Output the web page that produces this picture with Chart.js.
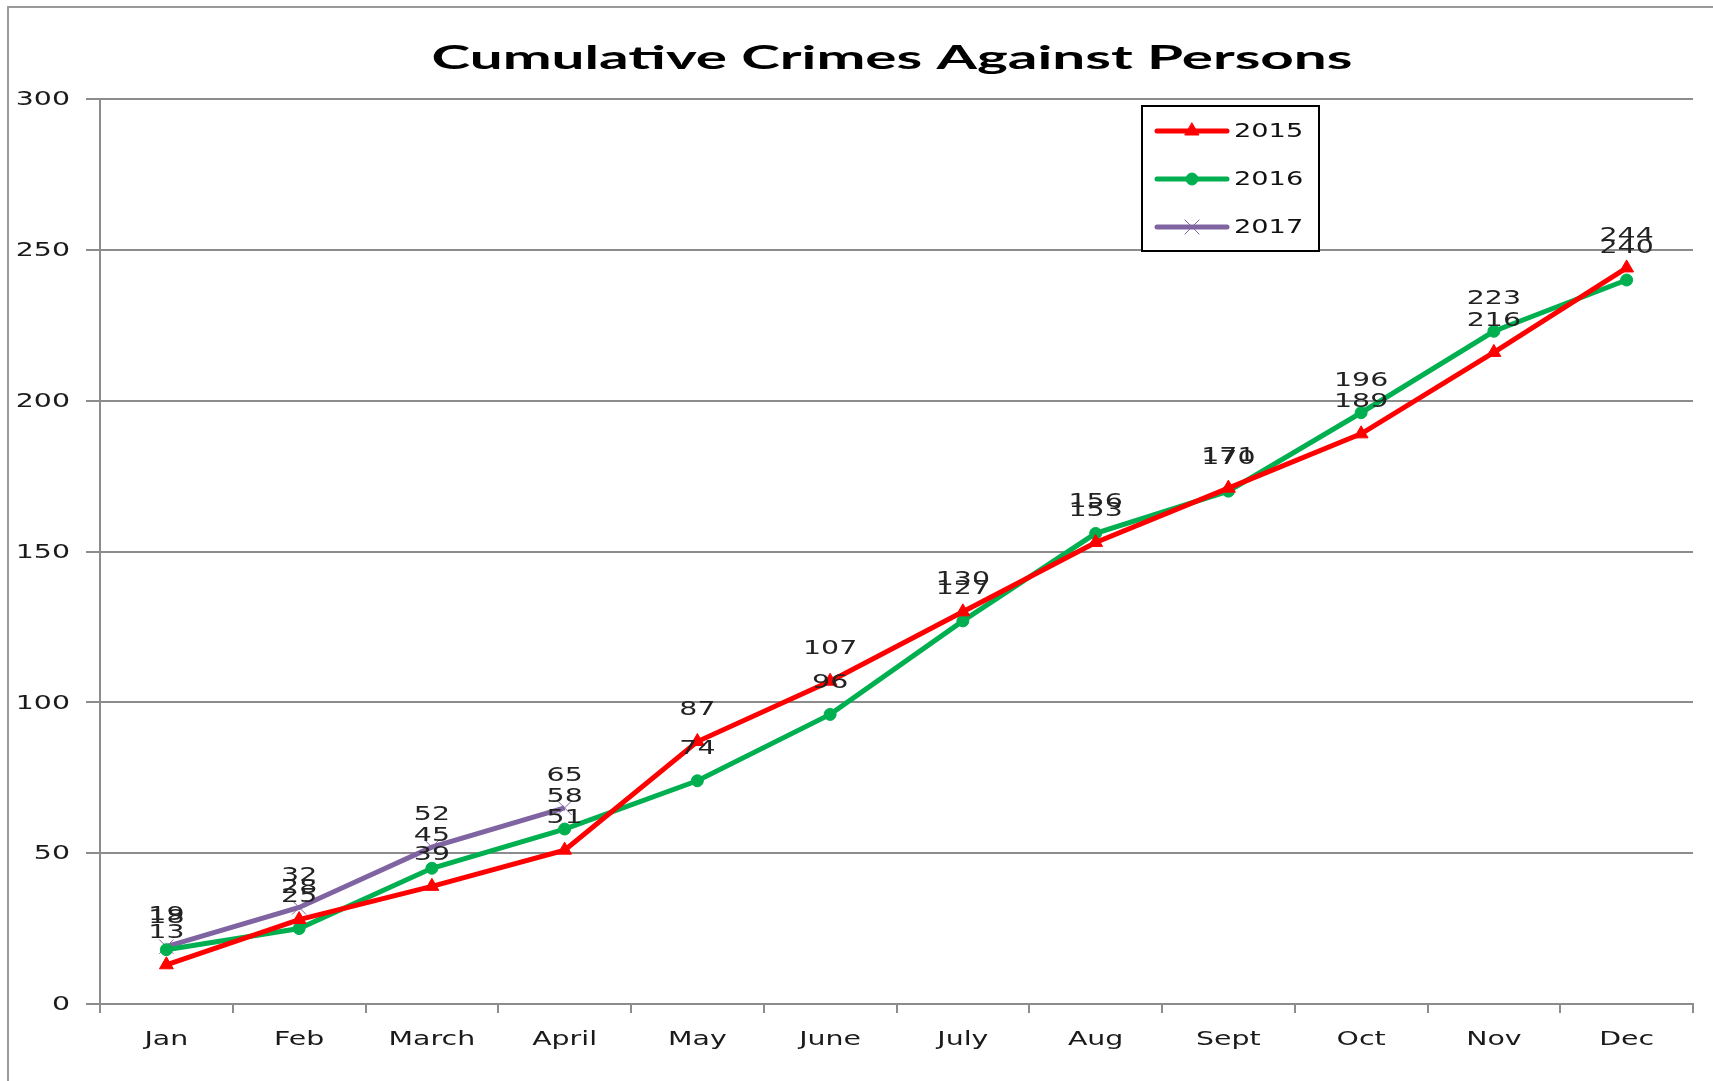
<!DOCTYPE html>
<html>
<head>
<meta charset="utf-8">
<script src="https://cdn.jsdelivr.net/npm/chart.js@4/dist/chart.umd.min.js"></script>
<style>
body { margin: 0; background: #fff; }
canvas { display: block; }
</style>
</head>
<body>
<canvas id="mainChart" width="1713" height="1081"></canvas>
<script>
var months = ['Jan', 'Feb', 'March', 'April', 'May', 'June', 'July', 'Aug', 'Sept', 'Oct', 'Nov', 'Dec'];
var crimes2015 = [13, 28, 39, 51, 87, 107, 130, 153, 171, 189, 216, 244];
var crimes2016 = [18, 25, 45, 58, 74, 96, 127, 156, 170, 196, 223, 240];
var crimes2017 = [19, 32, 52, 65];
var yTicks = [0, 50, 100, 150, 200, 250, 300];

var fontFace = '"DejaVu Sans", Verdana, sans-serif';
var stretch = 1.42; // the source text is wide, squashed vertically

// draw text widened horizontally around (x, y)
var wideText = function(ctx, text, x, y, align, sx) {
    ctx.save();
    ctx.translate(x, y);
    ctx.scale(sx, 1);
    ctx.textAlign = align;
    ctx.fillText(text, 0, 0);
    ctx.restore();
};

// Title, frame, tick labels, value labels and the boxed legend
var extrasPlugin = {
    id: 'extras',
    beforeDraw: function(chart) {
        var ctx = chart.ctx;
        ctx.save();
        ctx.fillStyle = '#fff';
        ctx.fillRect(0, 0, chart.width, chart.height);
        ctx.strokeStyle = '#9a9a9a';
        ctx.lineWidth = 2;
        ctx.beginPath();
        ctx.moveTo(8, chart.height);
        ctx.lineTo(8, 7);
        ctx.lineTo(chart.width, 7);
        ctx.stroke();
        ctx.restore();
    },
    afterDraw: function(chart) {
        var ctx = chart.ctx;
        var xs = chart.scales.x, ys = chart.scales.y;
        ctx.save();
        ctx.fillStyle = '#1a1a1a';
        ctx.textBaseline = 'middle';
        ctx.font = '20px ' + fontFace;
        // tick labels
        yTicks.forEach(function(v) {
            wideText(ctx, String(v), 70, ys.getPixelForValue(v) + 1, 'right', stretch);
        });
        months.forEach(function(m, i) {
            wideText(ctx, m, xs.getPixelForValue(i), 1040, 'center', stretch);
        });

        // value labels above the points
        ctx.fillStyle = '#222';
        chart.data.datasets.forEach(function(ds, i) {
            var meta = chart.getDatasetMeta(i);
            meta.data.forEach(function(pt, j) {
                wideText(ctx, String(ds.data[j]), pt.x, pt.y - 32, 'center', stretch);
            });
        });

        // title
        ctx.font = 'bold 33px Lato, "Open Sans", sans-serif';
        ctx.fillStyle = '#000';
        var title = 'Cumulative Crimes Against Persons';
        var tw = ctx.measureText(title).width;
        wideText(ctx, title, 892, 58, 'center', 921 / tw);

        // legend box
        var bx = 1142, by = 106, bw = 177, bh = 145;
        ctx.fillStyle = '#fff';
        ctx.fillRect(bx, by, bw, bh);
        ctx.strokeStyle = '#000';
        ctx.lineWidth = 2;
        ctx.strokeRect(bx, by, bw, bh);
        var rows = [131, 179, 227];
        chart.data.datasets.forEach(function(ds, i) {
            var y = rows[i];
            ctx.strokeStyle = ds.borderColor;
            ctx.fillStyle = ds.borderColor;
            ctx.lineWidth = 5;
            ctx.lineCap = 'round';
            ctx.beginPath();
            ctx.moveTo(1157, y);
            ctx.lineTo(1227, y);
            ctx.stroke();
            ctx.lineWidth = ds.pointBorderWidth;
            Chart.helpers.drawPoint(ctx, {
                pointStyle: ds.pointStyle,
                radius: ds.pointRadius,
                borderWidth: ds.pointBorderWidth
            }, 1192, y);
            ctx.fillStyle = '#111';
            ctx.font = '20px ' + fontFace;
            wideText(ctx, ds.label, 1234, y + 1, 'left', 1.36);
        });
        ctx.restore();
    }
};

var chartContainer = document.getElementById('mainChart');
var chartOptions = {
    type: 'line',
    data: {
        labels: months,
        datasets: [
            {
                label: '2015',
                data: crimes2015,
                borderColor: '#ff0000',
                backgroundColor: '#ff0000',
                pointStyle: 'triangle',
                pointRadius: 8,
                pointBorderWidth: 1,
                borderWidth: 5
            },
            {
                label: '2016',
                data: crimes2016,
                borderColor: '#00b050',
                backgroundColor: '#00b050',
                pointStyle: 'circle',
                pointRadius: 6,
                pointBorderWidth: 1,
                borderWidth: 5
            },
            {
                label: '2017',
                data: crimes2017,
                borderColor: '#8064a2',
                backgroundColor: '#8064a2',
                pointStyle: 'crossRot',
                pointRadius: 10,
                pointBorderWidth: 1,
                borderWidth: 5
            }
        ]
    },
    options: {
        responsive: false,
        animation: false,
        layout: { padding: { top: 99, left: 0, right: 20, bottom: 0 } },
        elements: { line: { tension: 0 } },
        plugins: {
            legend: { display: false },
            title: { display: false },
            tooltip: { enabled: false }
        },
        scales: {
            x: {
                offset: true,
                grid: {
                    offset: true,
                    drawOnChartArea: false,
                    color: '#8c8c8c',
                    lineWidth: 2,
                    tickLength: 9
                },
                border: { color: '#8c8c8c', width: 2 },
                ticks: { display: false },
                afterFit: function(scale) { scale.height = 77; }
            },
            y: {
                min: 0,
                max: 300,
                afterBuildTicks: function(scale) {
                    scale.ticks = yTicks.map(function(v) { return { value: v }; });
                },
                grid: {
                    color: '#8c8c8c',
                    lineWidth: 2,
                    tickLength: 14
                },
                border: { color: '#8c8c8c', width: 2 },
                ticks: { display: false },
                afterFit: function(scale) { scale.width = 100; }
            }
        }
    },
    plugins: [extrasPlugin]
};
var mainChart = new Chart(chartContainer, chartOptions);
</script>
</body>
</html>
